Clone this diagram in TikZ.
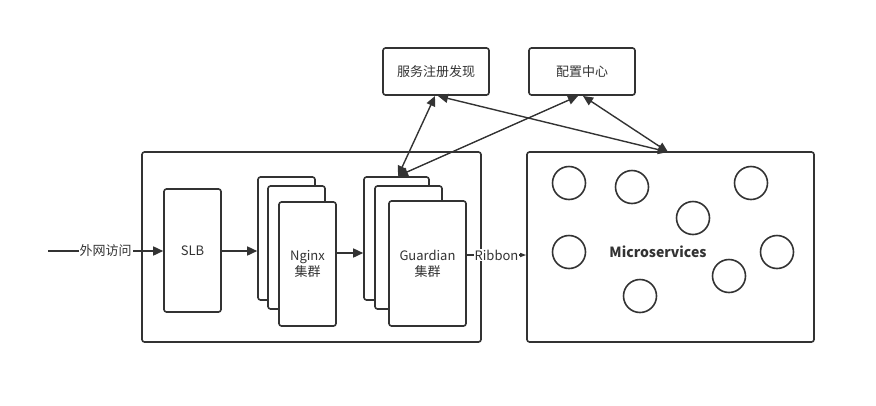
\documentclass[tikz,border=0pt]{standalone}
\usepackage{fontspec}
\setmainfont{Noto Sans CJK SC}
\usetikzlibrary{arrows.meta}
\definecolor{ink}{HTML}{333333}
\tikzset{
  box/.style={draw=ink, line width=1.6pt, rounded corners=2.5pt, fill=white, inner sep=0pt},
  svc/.style={draw=ink, line width=1.6pt, circle, minimum size=33pt, inner sep=0pt},
  conn/.style={draw=ink, line width=1.6pt, -{Triangle[length=10pt,width=9pt]}},
  biconn/.style={draw=ink, line width=1.4pt, {Triangle[length=10pt,width=9pt]}-{Triangle[length=10pt,width=9pt]}},
  txt/.style={font=\fontsize{13}{16}\selectfont, text=ink},
  lbl/.style={txt, inner sep=1pt, fill=white},
}
\begin{document}
\begin{tikzpicture}[x=1pt,y=-1pt]
\useasboundingbox (0,0) rectangle (876,405);
% top boxes
\node[box, txt, minimum width=106pt, minimum height=47pt] (reg) at (436,71.5) {服务注册发现};
\node[box, txt, minimum width=106pt, minimum height=47pt] (cfg) at (582,71.5) {配置中心};
% containers
\node[box, minimum width=339pt, minimum height=190pt] (left) at (311.5,247) {};
\node[box, minimum width=287pt, minimum height=190pt] (right) at (670.5,247) {};
% SLB
\node[box, txt, minimum width=57pt, minimum height=123pt] (slb) at (192.5,250.5) {SLB};
% Nginx stack
\node[box, minimum width=57pt, minimum height=123pt] (ng1) at (286.5,238.5) {};
\node[box, minimum width=57pt, minimum height=123pt] (ng2) at (296.5,247.5) {};
\node[box, txt, minimum width=57pt, minimum height=124pt, align=center] (ng3) at (307.5,264) {Nginx\\集群};
% Guardian stack
\node[box, minimum width=65pt, minimum height=123pt] (gd1) at (396.5,238.5) {};
\node[box, minimum width=67pt, minimum height=123pt] (gd2) at (408.5,247.5) {};
\node[box, txt, minimum width=77pt, minimum height=125pt, align=center] (gd3) at (427.5,263.5) {Guardian\\集群};
% microservices
\node[font=\bfseries\fontsize{14}{16}\selectfont, text=ink] (ms) at (658,252) {Microservices};
\node[svc] (c1) at (569,183) {};
\node[svc] (c2) at (632,187) {};
\node[svc] (c3) at (693,218) {};
\node[svc] (c4) at (751,183) {};
\node[svc] (c5) at (569,252) {};
\node[svc] (c6) at (777,252) {};
\node[svc] (c7) at (729,276) {};
\node[svc] (c8) at (640,296) {};
% input
\coordinate (in) at (48,251);
\draw[conn] (in) -- node[lbl]{外网访问} (slb.west |- in);
\draw[conn] (slb.east |- 0,251) -- (ng1.west |- 0,251);
\draw[conn] (ng3.east |- 0,253) -- (gd1.west |- 0,253);
\draw[draw=ink, line width=1.3pt, -{Triangle[length=6pt,width=4pt]}] (gd3.east |- 0,255) -- node[lbl, inner sep=0.3pt]{Ribbon} (right.west |- 0,255);
% registry/config links
\coordinate (gtop) at (398,176);
\coordinate (mtop) at (668,152);
\coordinate (regA) at (435,96);
\coordinate (regB) at (438,96);
\coordinate (cfgA) at (578,96);
\coordinate (cfgB) at (583,96);
\draw[biconn] (regA) -- (gtop);
\draw[biconn] (cfgA) -- (gtop);
\draw[biconn] (regB) -- (mtop);
\draw[biconn] (cfgB) -- (mtop);
\end{tikzpicture}
\end{document}
